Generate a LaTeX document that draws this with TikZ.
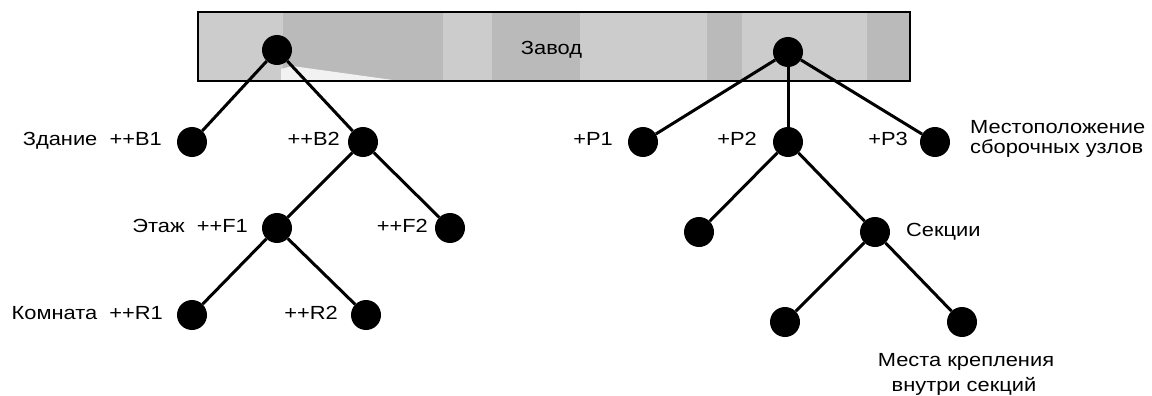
\documentclass[tikz,border=0pt]{standalone}
\usepackage{fontspec}
\setmainfont[FakeStretch=1.15]{Liberation Sans}
\definecolor{barlight}{gray}{0.80}
\definecolor{bardark}{gray}{0.73}
\definecolor{barwedge}{gray}{0.95}
\begin{document}
\begin{tikzpicture}[x=1pt,y=-1pt,
  dot/.style={circle,fill=black,draw=none,minimum size=30pt,inner sep=0pt},
  edge/.style={line width=3pt,black},
  lbl/.style={font=\fontsize{19}{22}\selectfont,inner sep=0pt},
]
\useasboundingbox[fill=white] (0,0) rectangle (1152,396);
% bar
\fill[barlight] (198,12) rectangle (910,81);
\fill[bardark] (283,12) rectangle (443,81);
\fill[bardark] (492,12) rectangle (580,81);
\fill[bardark] (707,12) rectangle (742,81);
\fill[bardark] (867,12) rectangle (910,81);
\fill[barwedge] (281,69) -- (292,66) -- (400,81) -- (281,81) -- cycle;
\draw[line width=2.5pt] (198,12) rectangle (910,81);
\node[lbl,anchor=base] (tZavod) at (551.5,55) {Завод};
% nodes
\node[dot] (r1) at (277,50) {};
\node[dot] (r2) at (788,52) {};
\node[dot] (b1) at (192,142) {};
\node[dot] (b2) at (363,142) {};
\node[dot] (f1) at (277,228) {};
\node[dot] (f2) at (450,228) {};
\node[dot] (q1) at (192,315) {};
\node[dot] (q2) at (366,315) {};
\node[dot] (p1) at (643,142) {};
\node[dot] (p2) at (788,142) {};
\node[dot] (p3) at (935,142) {};
\node[dot] (c1) at (699,232) {};
\node[dot] (s) at (875,232) {};
\node[dot] (l1) at (785,322) {};
\node[dot] (l2) at (962,322) {};
% edges
\draw[edge] (r1) -- (b1);
\draw[edge] (r1) -- (b2);
\draw[edge] (b2) -- (f1);
\draw[edge] (b2) -- (f2);
\draw[edge] (f1) -- (q1);
\draw[edge] (f1) -- (q2);
\draw[edge] (r2) -- (p1);
\draw[edge] (r2) -- (p2);
\draw[edge] (r2) -- (p3);
\draw[edge] (p2) -- (c1);
\draw[edge] (p2) -- (s);
\draw[edge] (s) -- (l1);
\draw[edge] (s) -- (l2);
% labels
\node[lbl,anchor=base east] (tB1) at (162,146) {Здание\ \ ++B1};
\node[lbl,anchor=base east] (tB2) at (340,146) {++B2};
\node[lbl,anchor=base east] (tF1) at (248,232) {Этаж\ \ ++F1};
\node[lbl,anchor=base east] (tF2) at (428,232) {++F2};
\node[lbl,anchor=base east] (tR1) at (163,319) {Комната\ \ ++R1};
\node[lbl,anchor=base east] (tR2) at (338,319) {++R2};
\node[lbl,anchor=base east] (tP1) at (613,146) {+P1};
\node[lbl,anchor=base east] (tP2) at (757,146) {+P2};
\node[lbl,anchor=base east] (tP3) at (908,146) {+P3};
\node[lbl,anchor=base west] (tMest1) at (970,133) {Местоположение};
\node[lbl,anchor=base west] (tMest2) at (970,153) {сборочных узлов};
\node[lbl,anchor=base west] (tSek) at (906,236) {Секции};
\node[lbl,anchor=base] (tKr1) at (966,366) {Места крепления};
\node[lbl,anchor=base] (tKr2) at (964,391) {внутри секций};
\end{tikzpicture}
\end{document}
